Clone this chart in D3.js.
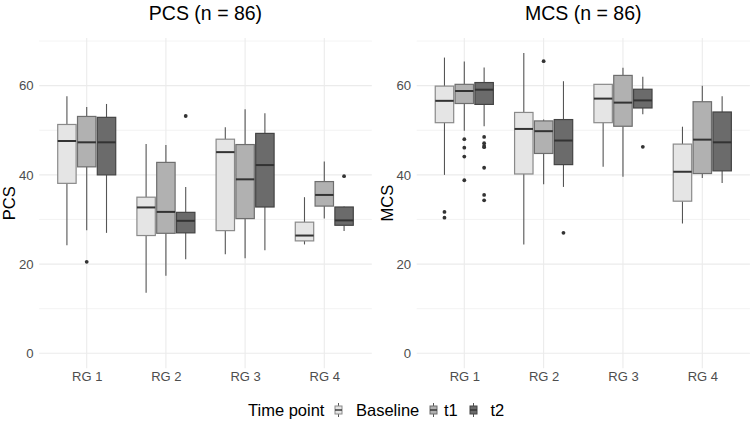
<!DOCTYPE html>
<html>
<head>
<meta charset="utf-8">
<script src="https://cdn.jsdelivr.net/npm/d3@7"></script>
<style>
body { margin: 0; background: #fff; }
svg { display: block; font-family: "Liberation Sans", Arial, Helvetica, sans-serif; }
</style>
</head>
<body>
<svg id="chart" width="751" height="433"></svg>
<script>
// ---- data ----
const categories = ["RG 1", "RG 2", "RG 3", "RG 4"];
const timePoints = ["Baseline", "t1", "t2"];
const yTicks = [0, 20, 40, 60];
const yMinorTicks = [10, 30, 50, 70];

// each entry: [lower whisker, Q1, median, Q3, upper whisker], one per category
const pcsBaseline = [[24.2, 38.1, 47.6, 51.3, 57.6], [13.6, 26.4, 32.7, 35.0, 46.9], [22.2, 27.5, 45.1, 48.0, 50.7], [24.4, 25.2, 26.4, 29.4, 35.0]];
const pcsT1 = [[27.6, 41.8, 47.3, 53.1, 55.2], [17.4, 26.9, 31.7, 42.8, 46.7], [21.3, 30.2, 39.0, 46.8, 54.7], [30.2, 33.0, 35.5, 38.5, 43.0]];
const pcsT2 = [[27.0, 40.0, 47.3, 52.9, 55.9], [21.1, 27.0, 29.7, 31.6, 37.3], [23.1, 32.8, 42.2, 49.3, 53.8], [27.4, 28.7, 29.8, 32.8, 32.9]];
const pcsOutBaseline = [[], [], [], []];
const pcsOutT1 = [[20.5], [], [], []];
const pcsOutT2 = [[], [53.2], [], [39.7]];

const mcsBaseline = [[40.0, 51.7, 56.6, 59.9, 66.3], [24.4, 40.2, 50.3, 54.0, 67.3], [41.8, 51.7, 57.1, 60.3, 60.3], [29.1, 34.1, 40.7, 46.9, 50.8]];
const mcsT1 = [[49.9, 56.0, 58.8, 60.3, 65.4], [37.9, 44.8, 49.8, 52.1, 52.4], [39.6, 50.9, 56.2, 62.3, 64.0], [39.3, 40.3, 47.9, 56.4, 60.0]];
const mcsT2 = [[50.9, 55.8, 59.1, 60.7, 64.1], [37.3, 42.3, 47.7, 52.4, 61.0], [53.6, 55.0, 56.7, 59.2, 62.0], [38.2, 40.9, 47.3, 54.1, 57.6]];
const mcsOutBaseline = [[31.7, 30.4], [], [], []];
const mcsOutT1 = [[48.0, 46.1, 44.1, 38.8], [65.5], [], []];
const mcsOutT2 = [[48.5, 47.1, 46.5, 46.2, 41.6, 35.5, 34.3], [27.0], [46.3], []];

const panels = [
  { title: "PCS (n = 86)", yLabel: "PCS", stats: [pcsBaseline, pcsT1, pcsT2], outs: [pcsOutBaseline, pcsOutT1, pcsOutT2] },
  { title: "MCS (n = 86)", yLabel: "MCS", stats: [mcsBaseline, mcsT1, mcsT2], outs: [mcsOutBaseline, mcsOutT1, mcsOutT2] }
];

// ---- styling / layout ----
const fills = ["#e5e5e5", "#b1b1b1", "#6b6b6b"];
const strokes = ["#8a8a8a", "#6e6e6e", "#444444"];
const panelX = [[39.2, 371.8], [416.7, 749.9]];
const yRange = [368.3, 38.1];
const dataMax = 67.3;
const svg = d3.select("#chart");

const y = d3.scaleLinear()
  .domain([-0.05 * dataMax, dataMax * 1.05])
  .range(yRange);

panels.forEach((p, pi) => {
  const [x0, x1] = panelX[pi];
  const x = d3.scalePoint().domain(categories).range([x0, x1]).padding(0.6);
  const step = x.step();
  const slot = step * 0.25;
  const boxW = slot * 0.93;
  const g = svg.append("g");

  // minor grid
  g.selectAll(".ymin").data(yMinorTicks).join("line")
    .attr("x1", x0).attr("x2", x1)
    .attr("y1", d => y(d)).attr("y2", d => y(d))
    .attr("stroke", "#f0f0f0").attr("stroke-width", 0.8);
  // major grid
  g.selectAll(".ymaj").data(yTicks).join("line")
    .attr("x1", x0).attr("x2", x1)
    .attr("y1", d => y(d)).attr("y2", d => y(d))
    .attr("stroke", "#ebebeb").attr("stroke-width", 1.1);
  g.selectAll(".xmaj").data(categories).join("line")
    .attr("x1", d => x(d)).attr("x2", d => x(d))
    .attr("y1", yRange[0]).attr("y2", yRange[1])
    .attr("stroke", "#ebebeb").attr("stroke-width", 1.1);

  // axes (text only)
  const yAxis = d3.axisLeft(y).tickValues(yTicks).tickSize(0).tickPadding(0);
  const ya = svg.append("g").attr("transform", `translate(${x0 - 5.5},0)`).call(yAxis);
  ya.select(".domain").remove();
  ya.selectAll("text").attr("font-size", 13.2).attr("fill", "#4d4d4d")
    .attr("font-family", "Liberation Sans, Arial, sans-serif");

  const xAxis = d3.axisBottom(x).tickSize(0).tickPadding(0);
  const xa = svg.append("g").attr("transform", `translate(0,${yRange[0] + 3.2})`).call(xAxis);
  xa.select(".domain").remove();
  xa.selectAll("text").attr("font-size", 13).attr("fill", "#4d4d4d")
    .attr("font-family", "Liberation Sans, Arial, sans-serif");

  // title
  svg.append("text").attr("x", (x0 + x1) / 2).attr("y", 20)
    .attr("text-anchor", "middle").attr("font-size", 19.5).attr("fill", "#000")
    .text(p.title);
  // y label
  const ylx = pi === 0 ? 15.2 : 393.3;
  svg.append("text")
    .attr("transform", `translate(${ylx},${(yRange[0] + yRange[1]) / 2}) rotate(-90)`)
    .attr("text-anchor", "middle").attr("font-size", 16.5).attr("fill", "#000")
    .text(p.yLabel);

  // boxes
  timePoints.forEach((tp, ti) => {
    const offset = (ti - 1) * slot;
    p.stats[ti].forEach((s, ci) => {
      const cx = x(categories[ci]) + offset;
      const [lw, q1, med, q3, uw] = s;
      const bg = g.append("g");
      bg.append("line").attr("x1", cx).attr("x2", cx).attr("y1", y(q3)).attr("y2", y(uw))
        .attr("stroke", "#555").attr("stroke-width", 1.1);
      bg.append("line").attr("x1", cx).attr("x2", cx).attr("y1", y(q1)).attr("y2", y(lw))
        .attr("stroke", "#555").attr("stroke-width", 1.1);
      bg.append("rect").attr("x", cx - boxW / 2).attr("width", boxW)
        .attr("y", y(q3)).attr("height", y(q1) - y(q3))
        .attr("fill", fills[ti]).attr("stroke", strokes[ti]).attr("stroke-width", 1.2);
      bg.append("line").attr("x1", cx - boxW / 2).attr("x2", cx + boxW / 2)
        .attr("y1", y(med)).attr("y2", y(med))
        .attr("stroke", "#333").attr("stroke-width", 2);
      bg.selectAll("circle").data(p.outs[ti][ci]).join("circle")
        .attr("cx", cx).attr("cy", d => y(d)).attr("r", 1.9).attr("fill", "#333");
    });
  });
});

// ---- legend ----
const leg = svg.append("g");
const legY = 410;
leg.append("text").attr("x", 248).attr("y", legY + 5.8).attr("font-size", 16.5).attr("fill", "#000").text("Time point");
const keyX = [338.5, 433.5, 473.5];
const labX = [356, 444, 490.5];
timePoints.forEach((tp, i) => {
  const kx = keyX[i];
  leg.append("line").attr("x1", kx).attr("x2", kx).attr("y1", legY - 7).attr("y2", legY + 7)
    .attr("stroke", "#555").attr("stroke-width", 1);
  leg.append("rect").attr("x", kx - 3.5).attr("width", 7).attr("y", legY - 4).attr("height", 8)
    .attr("fill", fills[i]).attr("stroke", strokes[i]).attr("stroke-width", 1);
  leg.append("line").attr("x1", kx - 3.5).attr("x2", kx + 3.5).attr("y1", legY).attr("y2", legY)
    .attr("stroke", "#333").attr("stroke-width", 1.4);
  leg.append("text").attr("x", labX[i]).attr("y", legY + 5.8).attr("font-size", 16.5).attr("fill", "#000").text(tp);
});
</script>
</body>
</html>
